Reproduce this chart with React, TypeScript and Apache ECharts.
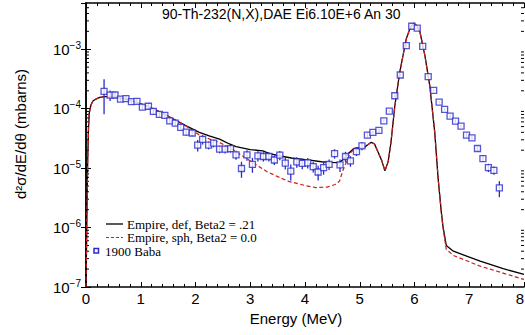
import React, { useEffect, useRef } from "react";
import * as echarts from "echarts";

const TITLE = "90-Th-232(N,X),DAE Ei6.10E+6 An 30";
const X_NAME = "Energy (MeV)";
const Y_NAME = "d²σ/dE/dθ (mbarns)";
const LEGEND_DEF = "Empire, def, Beta2 = .21";
const LEGEND_SPH = "Empire, sph, Beta2 = 0.0";
const LEGEND_EXP = "1900 Baba";

// Empire, deformed (Beta2 = .21)
const defE = [0, 0.01, 0.02, 0.03, 0.045, 0.06, 0.09, 0.13, 0.18, 0.25, 0.35, 0.5, 0.73, 0.9, 1.1, 1.3, 1.46, 1.65, 1.83, 2.07, 2.25, 2.44, 2.62, 2.74, 3.0, 3.23, 3.35, 3.55, 3.75, 4.05, 4.3, 4.45, 4.63, 4.72, 4.81, 4.9, 4.97, 5.06, 5.14, 5.21, 5.27, 5.33, 5.4, 5.46, 5.52, 5.57, 5.64, 5.73, 5.85, 5.93, 5.99, 6.05, 6.1, 6.19, 6.28, 6.37, 6.43, 6.49, 6.52, 6.58, 6.71, 7.2, 7.62, 8.0];
const defV = [1e-7, 5e-7, 3e-6, 1.2e-5, 4.5e-5, 8.5e-5, 1.15e-4, 1.36e-4, 1.45e-4, 1.55e-4, 1.6e-4, 1.6e-4, 1.45e-4, 1.3e-4, 1.12e-4, 9.3e-5, 7.8e-5, 6.3e-5, 5.15e-5, 4.0e-5, 3.5e-5, 3.07e-5, 2.55e-5, 2.3e-5, 2.05e-5, 1.95e-5, 1.75e-5, 1.6e-5, 1.48e-5, 1.38e-5, 1.28e-5, 1.25e-5, 1.24e-5, 1.45e-5, 1.83e-5, 2.15e-5, 2.22e-5, 2.15e-5, 2.45e-5, 2.72e-5, 2.55e-5, 1.9e-5, 1.35e-5, 9.0e-6, 1.3e-5, 2.7e-5, 1.1e-4, 4.1e-4, 1.5e-3, 2.4e-3, 2.75e-3, 2.45e-3, 1.95e-3, 7.8e-4, 2.4e-4, 4e-5, 7e-6, 1.8e-6, 1.06e-6, 5.0e-7, 4.0e-7, 2.72e-7, 2.03e-7, 1.63e-7];

// Empire, spherical (Beta2 = 0.0)
const sphE = [0, 0.01, 0.02, 0.03, 0.045, 0.06, 0.09, 0.13, 0.18, 0.25, 0.35, 0.5, 0.73, 0.9, 1.1, 1.3, 1.46, 1.65, 1.83, 2.07, 2.25, 2.44, 2.62, 2.74, 2.93, 3.1, 3.3, 3.5, 3.7, 4.0, 4.2, 4.4, 4.55, 4.63, 4.69, 4.76, 4.83, 4.9, 4.97, 5.06, 5.14, 5.21, 5.27, 5.33, 5.4, 5.46, 5.52, 5.57, 5.64, 5.73, 5.85, 5.93, 5.99, 6.05, 6.1, 6.19, 6.28, 6.37, 6.43, 6.49, 6.52, 6.58, 6.71, 7.2, 8.0];
const sphV = [1e-7, 5e-7, 3e-6, 1.2e-5, 4.5e-5, 8.5e-5, 1.15e-4, 1.36e-4, 1.45e-4, 1.55e-4, 1.6e-4, 1.6e-4, 1.45e-4, 1.3e-4, 1.12e-4, 9.3e-5, 7.8e-5, 6.3e-5, 5.1e-5, 3.6e-5, 3.1e-5, 2.7e-5, 2.2e-5, 1.9e-5, 1.45e-5, 1.15e-5, 8.8e-6, 7.2e-6, 6.0e-6, 5.1e-6, 4.7e-6, 4.8e-6, 5.3e-6, 6.0e-6, 9.0e-6, 1.3e-5, 1.8e-5, 2.1e-5, 2.2e-5, 2.15e-5, 2.45e-5, 2.72e-5, 2.55e-5, 1.9e-5, 1.35e-5, 9.0e-6, 1.3e-5, 2.7e-5, 1.1e-4, 4.1e-4, 1.5e-3, 2.4e-3, 2.75e-3, 2.45e-3, 1.95e-3, 7.8e-4, 2.4e-4, 4e-5, 7e-6, 1.8e-6, 1.0e-6, 4.3e-7, 3.4e-7, 2.24e-7, 1.34e-7];

// 1900 Baba experimental data
const expE = [0.33, 0.44, 0.53, 0.63, 0.73, 0.83, 0.93, 1.03, 1.14, 1.23, 1.34, 1.44, 1.53, 1.63, 1.73, 1.83, 1.94, 2.04, 2.13, 2.24, 2.33, 2.44, 2.54, 2.64, 2.74, 2.84, 2.94, 3.04, 3.14, 3.24, 3.34, 3.44, 3.54, 3.64, 3.74, 3.85, 3.95, 4.05, 4.15, 4.24, 4.34, 4.44, 4.54, 4.64, 4.74, 4.83, 4.94, 5.04, 5.14, 5.24, 5.35, 5.44, 5.54, 5.64, 5.74, 5.85, 5.95, 6.05, 6.15, 6.25, 6.35, 6.45, 6.55, 6.65, 6.75, 6.85, 6.95, 7.05, 7.15, 7.25, 7.35, 7.45, 7.55];
const expV = [1.96e-4, 1.69e-4, 1.70e-4, 1.45e-4, 1.48e-4, 1.31e-4, 1.33e-4, 1.06e-4, 1.10e-4, 9.0e-5, 8.0e-5, 7.7e-5, 6.25e-5, 5.7e-5, 4.84e-5, 4.03e-5, 3.9e-5, 2.43e-5, 3.04e-5, 2.43e-5, 2.63e-5, 2.08e-5, 2.08e-5, 2.13e-5, 1.67e-5, 9.85e-6, 1.67e-5, 1.16e-5, 1.61e-5, 1.57e-5, 1.57e-5, 1.37e-5, 1.65e-5, 1.21e-5, 8.87e-6, 1.27e-5, 1.2e-5, 1.23e-5, 1.06e-5, 8.6e-6, 1.02e-5, 1.16e-5, 1.76e-5, 1.13e-5, 1.57e-5, 1.32e-5, 1.9e-5, 2.37e-5, 3.59e-5, 3.98e-5, 4.3e-5, 6.25e-5, 9.1e-5, 1.65e-4, 3.69e-4, 1.15e-3, 2.44e-3, 2.26e-3, 1.12e-3, 3.45e-4, 2.03e-4, 1.29e-4, 9.73e-5, 7.5e-5, 6.18e-5, 5.09e-5, 3.59e-5, 3.23e-5, 2.14e-5, 1.45e-5, 1.02e-5, 9.2e-6, 4.64e-6];
// relative uncertainty, percent
const expErrPct = [59, 20, 12, 10, 10, 10, 10, 10, 10, 10, 10, 10, 10, 10, 10, 12, 12, 22, 18, 15, 15, 15, 15, 15, 17, 30, 20, 28, 20, 18, 18, 18, 18, 22, 30, 20, 20, 20, 20, 28, 24, 20, 18, 24, 20, 20, 16, 16, 10, 8, 8, 6, 5, 5, 5, 5, 5, 5, 5, 5, 5, 5, 5, 6, 6, 6, 8, 8, 10, 12, 16, 16, 30];

const X_MIN = 0;
const X_MAX = 8;
const Y_MIN = 1e-7;
const Y_MAX = 6e-3;
const Y_DECADES = [-7, -6, -5, -4, -3];
const MINOR_MULTS = [2, 3, 4, 5, 6, 7, 8, 9];

const SANS = "'Liberation Sans', Arial, Helvetica, sans-serif";
const SERIF = "'Liberation Serif', 'Times New Roman', serif";
const BLUE = "#2a2acb";
const RED = "#d01c1c";

export default function App() {
  const ref = useRef<HTMLDivElement>(null);

  useEffect(() => {
    document.body.style.margin = "0";
    if (!ref.current) return;
    const chart = echarts.init(ref.current, null, { renderer: "svg" });

    const defData = defE.map((e, i) => [e, defV[i]]);
    const sphData = sphE.map((e, i) => [e, sphV[i]]);
    const expData = expE.map((e, i) => [e, expV[i]]);
    const errData = expE.map((e, i) => {
      const f = expErrPct[i] / 100;
      return [e, expV[i] * (1 - f), expV[i] * (1 + f)];
    });
    const minorVals: number[] = [];
    Y_DECADES.forEach((d) => {
      MINOR_MULTS.forEach((m) => {
        const v = m * Math.pow(10, d);
        if (v < Y_MAX) minorVals.push(v);
      });
    });

    const yLabelFmt = (v: number) => {
      const e = Math.round(Math.log10(v));
      if (Math.abs(v - Math.pow(10, e)) / Math.pow(10, e) > 1e-6) return "";
      return `{b|10}{s|−${-e}}`;
    };

    const axisLine = { show: true, lineStyle: { color: "#000", width: 1.5 } };
    const legendText = { fontSize: 13, fontFamily: SERIF, fill: "#000", verticalAlign: "middle", lineHeight: 12 };

    const option: any = {
      animation: false,
      backgroundColor: "#fff",
      title: {
        text: TITLE,
        left: 162,
        top: 7,
        padding: 0,
        textStyle: { fontFamily: SANS, fontSize: 14, fontWeight: "normal", color: "#000" },
      },
      grid: { left: 86, right: 1, top: 3, bottom: 48, containLabel: false, outerBoundsMode: "none" },
      xAxis: [
        {
          type: "value",
          min: X_MIN,
          max: X_MAX,
          interval: 1,
          name: X_NAME,
          nameLocation: "middle",
          nameGap: 16,
          nameTextStyle: { fontFamily: SANS, fontSize: 15, color: "#000", padding: [0, 18, 0, 0] },
          axisLine,
          axisTick: { show: true, inside: true, length: 5, lineStyle: { color: "#000", width: 1 } },
          minorTick: { show: true, splitNumber: 5, length: 3, lineStyle: { color: "#000", width: 1 } },
          axisLabel: { fontFamily: SANS, fontSize: 15, color: "#000", margin: 4, alignMaxLabel: "right" },
          splitLine: { show: false },
        },
        {
          type: "value",
          position: "top",
          min: X_MIN,
          max: X_MAX,
          interval: 1,
          axisLine,
          axisTick: { show: true, inside: true, length: 5, lineStyle: { color: "#000", width: 1 } },
          minorTick: { show: true, splitNumber: 5, length: 3, lineStyle: { color: "#000", width: 1 } },
          axisLabel: { show: false },
          splitLine: { show: false },
        },
      ],
      yAxis: [
        {
          type: "log",
          logBase: 10,
          min: Y_MIN,
          max: Y_MAX,
          name: Y_NAME,
          nameLocation: "middle",
          nameGap: 58,
          nameTextStyle: { fontFamily: SANS, fontSize: 15, color: "#000", padding: [0, 0, 0, 22] },
          axisLine,
          axisTick: { show: true, inside: true, length: 5, lineStyle: { color: "#000", width: 1 } },
          axisLabel: {
            margin: 5,
            showMaxLabel: false,
            formatter: yLabelFmt,
            rich: {
              b: { fontFamily: SANS, fontSize: 15, color: "#000", lineHeight: 18 },
              s: { fontFamily: SANS, fontSize: 10, color: "#000", lineHeight: 12, verticalAlign: "top" },
            },
          },
          splitLine: { show: false },
        },
        {
          type: "log",
          logBase: 10,
          position: "right",
          min: Y_MIN,
          max: Y_MAX,
          axisLine,
          axisTick: { show: true, inside: true, length: 5, lineStyle: { color: "#000", width: 1 } },
          axisLabel: { show: false },
          splitLine: { show: false },
        },
      ],
      series: [
        {
          type: "custom",
          name: "minorTicks",
          silent: true,
          xAxisIndex: 0,
          yAxisIndex: 0,
          data: minorVals.map((v) => [X_MIN, v]),
          encode: { x: 0, y: 1 },
          clip: false,
          renderItem: (params: any, api: any) => {
            const v = api.value(1);
            const l = api.coord([X_MIN, v]);
            const r = api.coord([X_MAX, v]);
            const st = { stroke: "#000", lineWidth: 1 };
            return {
              type: "group",
              children: [
                { type: "line", shape: { x1: l[0], y1: l[1], x2: l[0] + 3, y2: l[1] }, style: st },
                { type: "line", shape: { x1: r[0], y1: r[1], x2: r[0] - 3, y2: r[1] }, style: st },
              ],
            };
          },
          z: 1,
        },
        {
          type: "line",
          name: LEGEND_DEF,
          data: defData,
          showSymbol: false,
          symbol: "none",
          lineStyle: { color: "#000", width: 1.3 },
          z: 3,
        },
        {
          type: "line",
          name: LEGEND_SPH,
          data: sphData,
          showSymbol: false,
          symbol: "none",
          lineStyle: { color: RED, width: 1.2, type: [4, 2.5] },
          z: 4,
        },
        {
          type: "custom",
          name: "errors",
          data: errData,
          encode: { x: 0, y: [1, 2] },
          renderItem: (params: any, api: any) => {
            const x = api.value(0);
            const lo = api.coord([x, api.value(1)]);
            const hi = api.coord([x, api.value(2)]);
            return {
              type: "line",
              shape: { x1: lo[0], y1: lo[1], x2: hi[0], y2: hi[1] },
              style: { stroke: BLUE, lineWidth: 1.3 },
            };
          },
          z: 5,
        },
        {
          type: "scatter",
          name: LEGEND_EXP,
          data: expData,
          symbol: "rect",
          symbolSize: 6,
          itemStyle: { color: "#fff", borderColor: BLUE, borderWidth: 1.3 },
          z: 6,
        },
      ],
      graphic: [
        { type: "line", shape: { x1: 106, y1: 224, x2: 123, y2: 224 }, style: { stroke: "#000", lineWidth: 1.3 } },
        { type: "text", x: 127, y: 224, style: { text: LEGEND_DEF, ...legendText } },
        {
          type: "line",
          shape: { x1: 106, y1: 237.5, x2: 123, y2: 237.5 },
          style: { stroke: RED, lineWidth: 1.2, lineDash: [3, 2] },
        },
        { type: "text", x: 127, y: 237.5, style: { text: LEGEND_SPH, ...legendText } },
        {
          type: "rect",
          shape: { x: 94, y: 248.5, width: 4.5, height: 4.5 },
          style: { fill: "#fff", stroke: BLUE, lineWidth: 1.5 },
        },
        { type: "text", x: 105, y: 251, style: { text: LEGEND_EXP, ...legendText } },
      ],
    };

    chart.setOption(option);
    return () => chart.dispose();
  }, []);

  return <div ref={ref} style={{ width: 525, height: 335 }} />;
}
